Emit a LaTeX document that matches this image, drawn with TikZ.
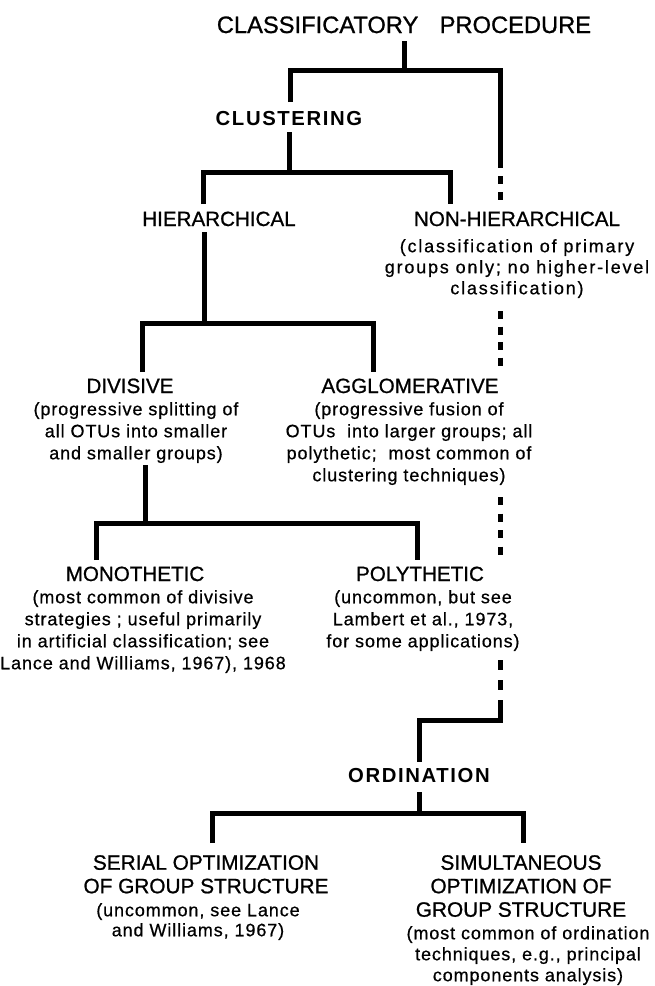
\documentclass[tikz,border=0pt]{standalone}
\usepackage{fontspec}
\setmainfont{Liberation Sans}
\newfontfamily\labelfont{Liberation Sans}[FakeBold=0.9]
\newfontfamily\headfont{Liberation Sans}[LetterSpace=8]
\newfontfamily\notefont{Liberation Sans}[LetterSpace=5,FakeBold=0.6]
\newfontfamily\widenotefont{Liberation Sans}[LetterSpace=10,FakeBold=0.6]

\begin{document}
\begin{tikzpicture}[x=1pt,y=-1pt,
  conn/.style={line width=5pt, line join=miter, line cap=butt},
  gap/.style={conn, dash pattern=on 8pt off 8pt},
  lbl/.style={inner sep=0pt, anchor=base, font=\labelfont\fontsize{20.6}{21}\selectfont},
  head/.style={inner sep=0pt, anchor=base, font=\headfont\bfseries\fontsize{20.3}{21}\selectfont},
  capsblock/.style={inner sep=0pt, anchor=north, align=center, font=\labelfont\fontsize{20.8}{#1}\selectfont},
  capsblock/.default=23.5,
  note/.style={inner sep=0pt, anchor=north, align=center, font=\notefont\fontsize{18}{#1}\selectfont},
  note/.default=22,
  widenote/.style={inner sep=0pt, anchor=north, align=center, font=\widenotefont\fontsize{18}{#1}\selectfont},
  widenote/.default=21]

\fill[white] (0,0) rectangle (654,986);
\useasboundingbox (0,0) rectangle (654,986);

% ---------- labels ----------
\node[lbl, font=\labelfont\fontsize{23.7}{25}\selectfont] (title) at (404,33)
  {CLASSIFICATORY\hspace{0.9em}PROCEDURE};
\node[head] (clust) at (289,125) {CLUSTERING};

\node[lbl] (hier) at (219,226) {HIERARCHICAL};
\node[lbl] (nonhier) at (517,226) {NON-HIERARCHICAL};
\node[widenote] (nonhiernote) at (517,239)
  {(classification of primary\\groups only; no higher-level\\classification)};

\node[lbl] (divis) at (130,393) {DIVISIVE};
\node[note] (divisnote) at (136,402)
  {(progressive splitting of\\all OTUs into smaller\\and smaller groups)};
\node[lbl] (agglo) at (410,393) {AGGLOMERATIVE};
\node[note] (agglonote) at (409,402)
  {(progressive fusion of\\OTUs\ \ into larger groups; all\\polythetic;\ \ most common of\\clustering techniques)};

\node[lbl] (mono) at (135,581) {MONOTHETIC};
\node[note] (mononote) at (143,590)
  {(most common of divisive\\strategies ; useful primarily\\in artificial classification; see\\Lance and Williams, 1967), 1968};
\node[lbl] (poly) at (420,581) {POLYTHETIC};
\node[note] (polynote) at (423,590)
  {(uncommon, but see\\Lambert et al., 1973,\\for some applications)};

\node[head] (ordin) at (419,782) {ORDINATION};

\node[capsblock] (serial) at (206,855) {SERIAL OPTIMIZATION\\OF GROUP STRUCTURE};
\node[note=20] (serialnote) at (198,903) {(uncommon, see Lance\\and Williams, 1967)};
\node[capsblock] (simul) at (521,855) {SIMULTANEOUS\\OPTIMIZATION OF\\GROUP STRUCTURE};
\node[note=21] (simulnote) at (528,926)
  {(most common of ordination\\techniques, e.g., principal\\components analysis)};

% ---------- branch points ----------
\coordinate (tA) at (404,41);   \coordinate (tB) at (404,70);
\coordinate (tL) at (290,70);   \coordinate (tLd) at (290,102);
\coordinate (tR) at (500,70);   \coordinate (tRd) at (500,168);

\coordinate (cA) at (289.5,132); \coordinate (cB) at (289.5,172);
\coordinate (cL) at (203,172);  \coordinate (cLd) at (203,204);
\coordinate (cR) at (450,172);  \coordinate (cRd) at (450,204);

\coordinate (hA) at (204,232);  \coordinate (hB) at (204,323);
\coordinate (hL) at (142,323);  \coordinate (hLd) at (142,372);
\coordinate (hR) at (373,323);  \coordinate (hRd) at (373,372);

\coordinate (dA) at (145,465);  \coordinate (dB) at (145,523);
\coordinate (dL) at (96,523);   \coordinate (dLd) at (96,560);
\coordinate (dR) at (417,523);  \coordinate (dRd) at (417,560);

\coordinate (oS) at (500,700);  \coordinate (oC) at (500,720);
\coordinate (oT) at (419,720);  \coordinate (oTd) at (419,762);
\coordinate (oA) at (419,792);  \coordinate (oB) at (419,813);
\coordinate (oL) at (212,813);  \coordinate (oLd) at (212,843);
\coordinate (oR) at (523,813);  \coordinate (oRd) at (523,843);

% ---------- solid connectors ----------
\draw[conn] (tA) -- (tB);
\draw[conn] (tLd) -- (tL) -- (tR) -- (tRd);

\draw[conn] (cA) -- (cB);
\draw[conn] (cLd) -- (cL) -- (cR) -- (cRd);

\draw[conn] (hA) -- (hB);
\draw[conn] (hLd) -- (hL) -- (hR) -- (hRd);

\draw[conn] (dA) -- (dB);
\draw[conn] (dLd) -- (dL) -- (dR) -- (dRd);

\draw[conn] (oS) -- (oC) -- (oT) -- (oTd);
\draw[conn] (oA) -- (oB);
\draw[conn] (oLd) -- (oL) -- (oR) -- (oRd);

% ---------- broken line from the procedure down to ordination ----------
\coordinate (g1a) at (500,176); \coordinate (g1b) at (500,203);
\coordinate (g2a) at (500,311); \coordinate (g2b) at (500,366);
\coordinate (g3a) at (500,497); \coordinate (g3b) at (500,556);
\coordinate (g4a) at (500,660); \coordinate (g4b) at (500,690);
\draw[gap] (g1a) -- (g1b);
\draw[conn, dash pattern=on 8pt off 7.5pt] (g2a) -- (g2b);
\draw[conn, dash pattern=on 8pt off 8.5pt] (g3a) -- (g3b);
\draw[conn, dash pattern=on 10pt off 10pt] (g4a) -- (g4b);
\end{tikzpicture}
\end{document}
